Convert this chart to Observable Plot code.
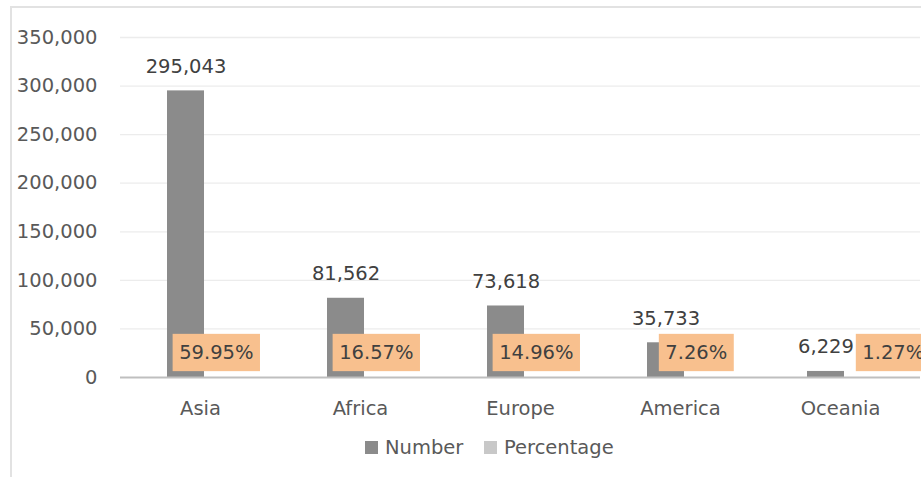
<!DOCTYPE html>
<html><head><meta charset="utf-8">
<script src="https://cdn.jsdelivr.net/npm/d3@7"></script>
<script src="https://cdn.jsdelivr.net/npm/@observablehq/plot@0.6"></script>
<style>
html,body{margin:0;padding:0;background:#fff;}
#wrap{position:relative;width:921px;height:477px;overflow:hidden;font-family:"DejaVu Sans",sans-serif;}
#frame{position:absolute;left:10px;top:6px;width:2000px;height:2000px;border-left:2px solid #e2e2e2;border-top:2px solid #e2e2e2;}
#chart{position:absolute;left:0;top:0;}
.leg{position:absolute;top:436px;display:flex;align-items:center;font-size:19.5px;color:#595959;white-space:nowrap;}
.sw{width:13px;height:13px;display:inline-block;margin-right:7px;}
</style></head><body>
<div id="wrap"><div id="frame"></div><div id="chart"></div></div>
<script>
const categories = ["Asia", "Africa", "Europe", "America", "Oceania"];
const numbers = [295043, 81562, 73618, 35733, 6229];
const percentages = ["59.95%", "16.57%", "14.96%", "7.26%", "1.27%"];
const yTicks = [0, 50000, 100000, 150000, 200000, 250000, 300000, 350000];
const seriesNames = ["Number", "Percentage"];
const seriesColors = ["#8b8b8b", "#c8c8c8"];

const data = categories.map((c, i) => ({category: c, number: numbers[i], pct: percentages[i]}));
const fmt = d3.format(",");
const lastCat = categories[categories.length - 1];

const plot = Plot.plot({
  width: 921, height: 425,
  marginLeft: 120, marginRight: 1, marginTop: 37, marginBottom: 48,
  style: {fontFamily: "DejaVu Sans, sans-serif", fontSize: "19.5px", background: "transparent", overflow: "hidden"},
  x: {domain: categories, padding: 0, axis: null, label: null},
  y: {domain: [0, 350000], axis: null, label: null},
  marks: [
    Plot.ruleY(yTicks.filter(d => d > 0), {stroke: "#ececec", strokeWidth: 1.3}),
    Plot.axisY(yTicks, {tickSize: 0, tickPadding: 23, tickFormat: fmt, color: "#595959", label: null}),
    Plot.barY(data, {x: "category", y: "number", fill: seriesColors[0], insetLeft: 47, insetRight: 76}),
    Plot.ruleY([0], {stroke: "#bfbfbf", strokeWidth: 2}),
    Plot.axisX(categories, {tickSize: 0, tickPadding: 24, color: "#595959", label: null}),
    Plot.text(data, {x: "category", y: "number", text: d => fmt(d.number), dx: -14.5, dy: -18, lineAnchor: "bottom", fill: "#404040"}),
    Plot.text(data, {filter: d => d.category !== lastCat, x: "category", y: () => 0, text: "pct", dx: 15.8, dy: -24.5, fill: "#404040", className: "pctlab"}),
    Plot.text(data, {filter: d => d.category === lastCat, x: "category", y: () => 0, text: "pct", textAnchor: "start", dx: 21.8, dy: -24.5, fill: "#404040", className: "pctlab"})
  ]
});
document.getElementById("chart").appendChild(plot);

// orange label boxes behind percentage texts
const ns = "http://www.w3.org/2000/svg";
plot.querySelectorAll(".pctlab text").forEach(t => {
  const b = t.getBBox();
  const cy = b.y + b.height / 2 - 0.3;
  const r = document.createElementNS(ns, "rect");
  r.setAttribute("x", b.x - 6.5);
  r.setAttribute("width", b.width + 13);
  r.setAttribute("y", cy - 18.6);
  r.setAttribute("height", 37.3);
  r.setAttribute("fill", "#F8C08E");
  if (t.getAttribute("transform")) r.setAttribute("transform", t.getAttribute("transform"));
  t.parentNode.insertBefore(r, t);
});

// legend
const wrap = document.getElementById("wrap");
const legLeft = [365, 484];
seriesNames.forEach((name, i) => {
  const item = document.createElement("div");
  item.className = "leg";
  item.style.left = legLeft[i] + "px";
  const sw = document.createElement("span");
  sw.className = "sw";
  sw.style.background = seriesColors[i];
  item.appendChild(sw);
  item.appendChild(document.createTextNode(name));
  wrap.appendChild(item);
});
</script>
</body></html>
